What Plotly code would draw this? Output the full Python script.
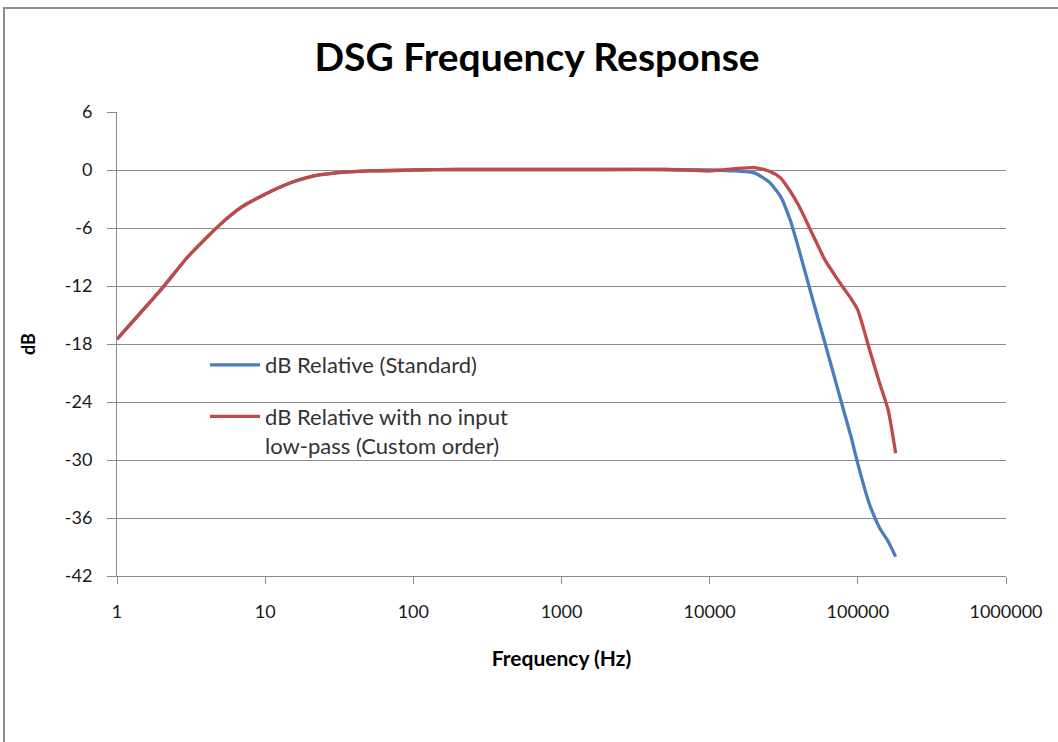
import plotly.graph_objects as go

freq = [1, 2, 3, 5, 7, 10, 15, 20, 30, 50, 100, 200, 500, 1000, 2000, 5000,
        10000, 15000, 20000, 25000, 30000, 35000, 40000, 50000, 60000, 70000,
        80000, 90000, 100000, 120000, 140000, 160000, 180000]
db_standard = [-17.5, -12.3, -9.0, -5.6, -3.8, -2.5, -1.3, -0.7, -0.3, -0.1, 0.0,
               0.05, 0.05, 0.05, 0.05, 0.05, 0.0, -0.1, -0.3, -1.2, -2.7, -5.2,
               -8.2, -13.6, -17.9, -21.6, -24.8, -27.6, -30.4, -34.6, -37.0, -38.4, -40.0]
db_custom = [-17.5, -12.3, -9.0, -5.6, -3.8, -2.5, -1.3, -0.7, -0.3, -0.1, 0.0,
             0.05, 0.05, 0.05, 0.05, 0.05, -0.1, 0.15, 0.25, -0.1, -0.8, -2.2,
             -3.7, -6.8, -9.3, -10.9, -12.2, -13.3, -14.5, -18.6, -22.0, -24.8, -29.3]

x_tickvals = [1, 10, 100, 1000, 10000, 100000, 1000000]
x_ticktext = ["1", "10", "100", "1000", "10000", "100000", "1000000"]
y_tickvals = [6, 0, -6, -12, -18, -24, -30, -36, -42]
y_ticktext = ["6", "0", "-6", "-12", "-18", "-24", "-30", "-36", "-42"]

name_standard = "dB Relative (Standard)"
name_custom = "dB Relative with no input<br>low-pass (Custom order)"

FONT = "Lato, 'Open Sans', sans-serif"
GRID = "#8A8A8A"

W, H = 1058, 742
L, T = 117, 112
R = W - 1006
B = H - 576
pw, ph = W - L - R, H - T - B


def px(xs):
    return (xs - L) / pw


def py(ys):
    return (H - B - ys) / ph


fig = go.Figure()
fig.add_trace(go.Scatter(x=freq, y=db_standard, mode="lines", name=name_standard,
                         legendgroup="a",
                         line=dict(color="#4A7EBB", width=3.3, shape="spline", smoothing=0.6)))
fig.add_trace(go.Scatter(x=freq, y=db_custom, mode="lines", name=name_custom,
                         legendgroup="b",
                         line=dict(color="#BE4B48", width=3.3, shape="spline", smoothing=0.6)))

fig.update_layout(
    width=W, height=H,
    margin=dict(l=L, r=R, t=T, b=B),
    paper_bgcolor="white", plot_bgcolor="white",
    font=dict(family=FONT, color="#000000", size=18),
    title=dict(text="<b>DSG Frequency Response</b>", x=537 / W, xanchor="center",
               xref="container", y=1 - 57 / H, yanchor="middle",
               font=dict(size=39, family=FONT, color="#000000")),
    showlegend=True,
    legend=dict(x=px(205), y=py(344), xanchor="left", yanchor="top",
                bgcolor="rgba(0,0,0,0)", font=dict(size=22, family=FONT, color="#333333"),
                tracegroupgap=20, valign="top", itemwidth=50),
    xaxis=dict(type="log", range=[0, 6], tickvals=x_tickvals, ticktext=x_ticktext,
               showgrid=False, showline=True, linecolor=GRID, linewidth=1,
               ticks="outside", ticklen=7, tickcolor=GRID, ticklabelstandoff=12,
               tickfont=dict(size=18, family=FONT, color="#1a1a1a"),
               title=dict(text="<b>Frequency (Hz)</b>", standoff=30,
                          font=dict(size=21, family=FONT, color="#000000")),
               zeroline=False),
    yaxis=dict(range=[-42, 6], tickvals=y_tickvals, ticktext=y_ticktext,
               showgrid=True, gridcolor=GRID,
               gridwidth=1, showline=True, linecolor=GRID, linewidth=1,
               ticks="outside", ticklen=9, tickcolor=GRID, ticklabelstandoff=11,
               tickfont=dict(size=18, family=FONT, color="#1a1a1a"),
               title=dict(text="<b>dB</b>", standoff=24,
                          font=dict(size=18, family=FONT, color="#000000")),
               zeroline=False),
)

fig.add_shape(type="rect", xref="paper", yref="paper",
              x0=px(4), x1=px(1080), y0=py(770), y1=py(8),
              line=dict(color="#8C8C8C", width=2), fillcolor="rgba(0,0,0,0)", layer="below")

fig.write_html("out.html", config={"displayModeBar": False},
               post_script="document.body.style.margin='0';")
